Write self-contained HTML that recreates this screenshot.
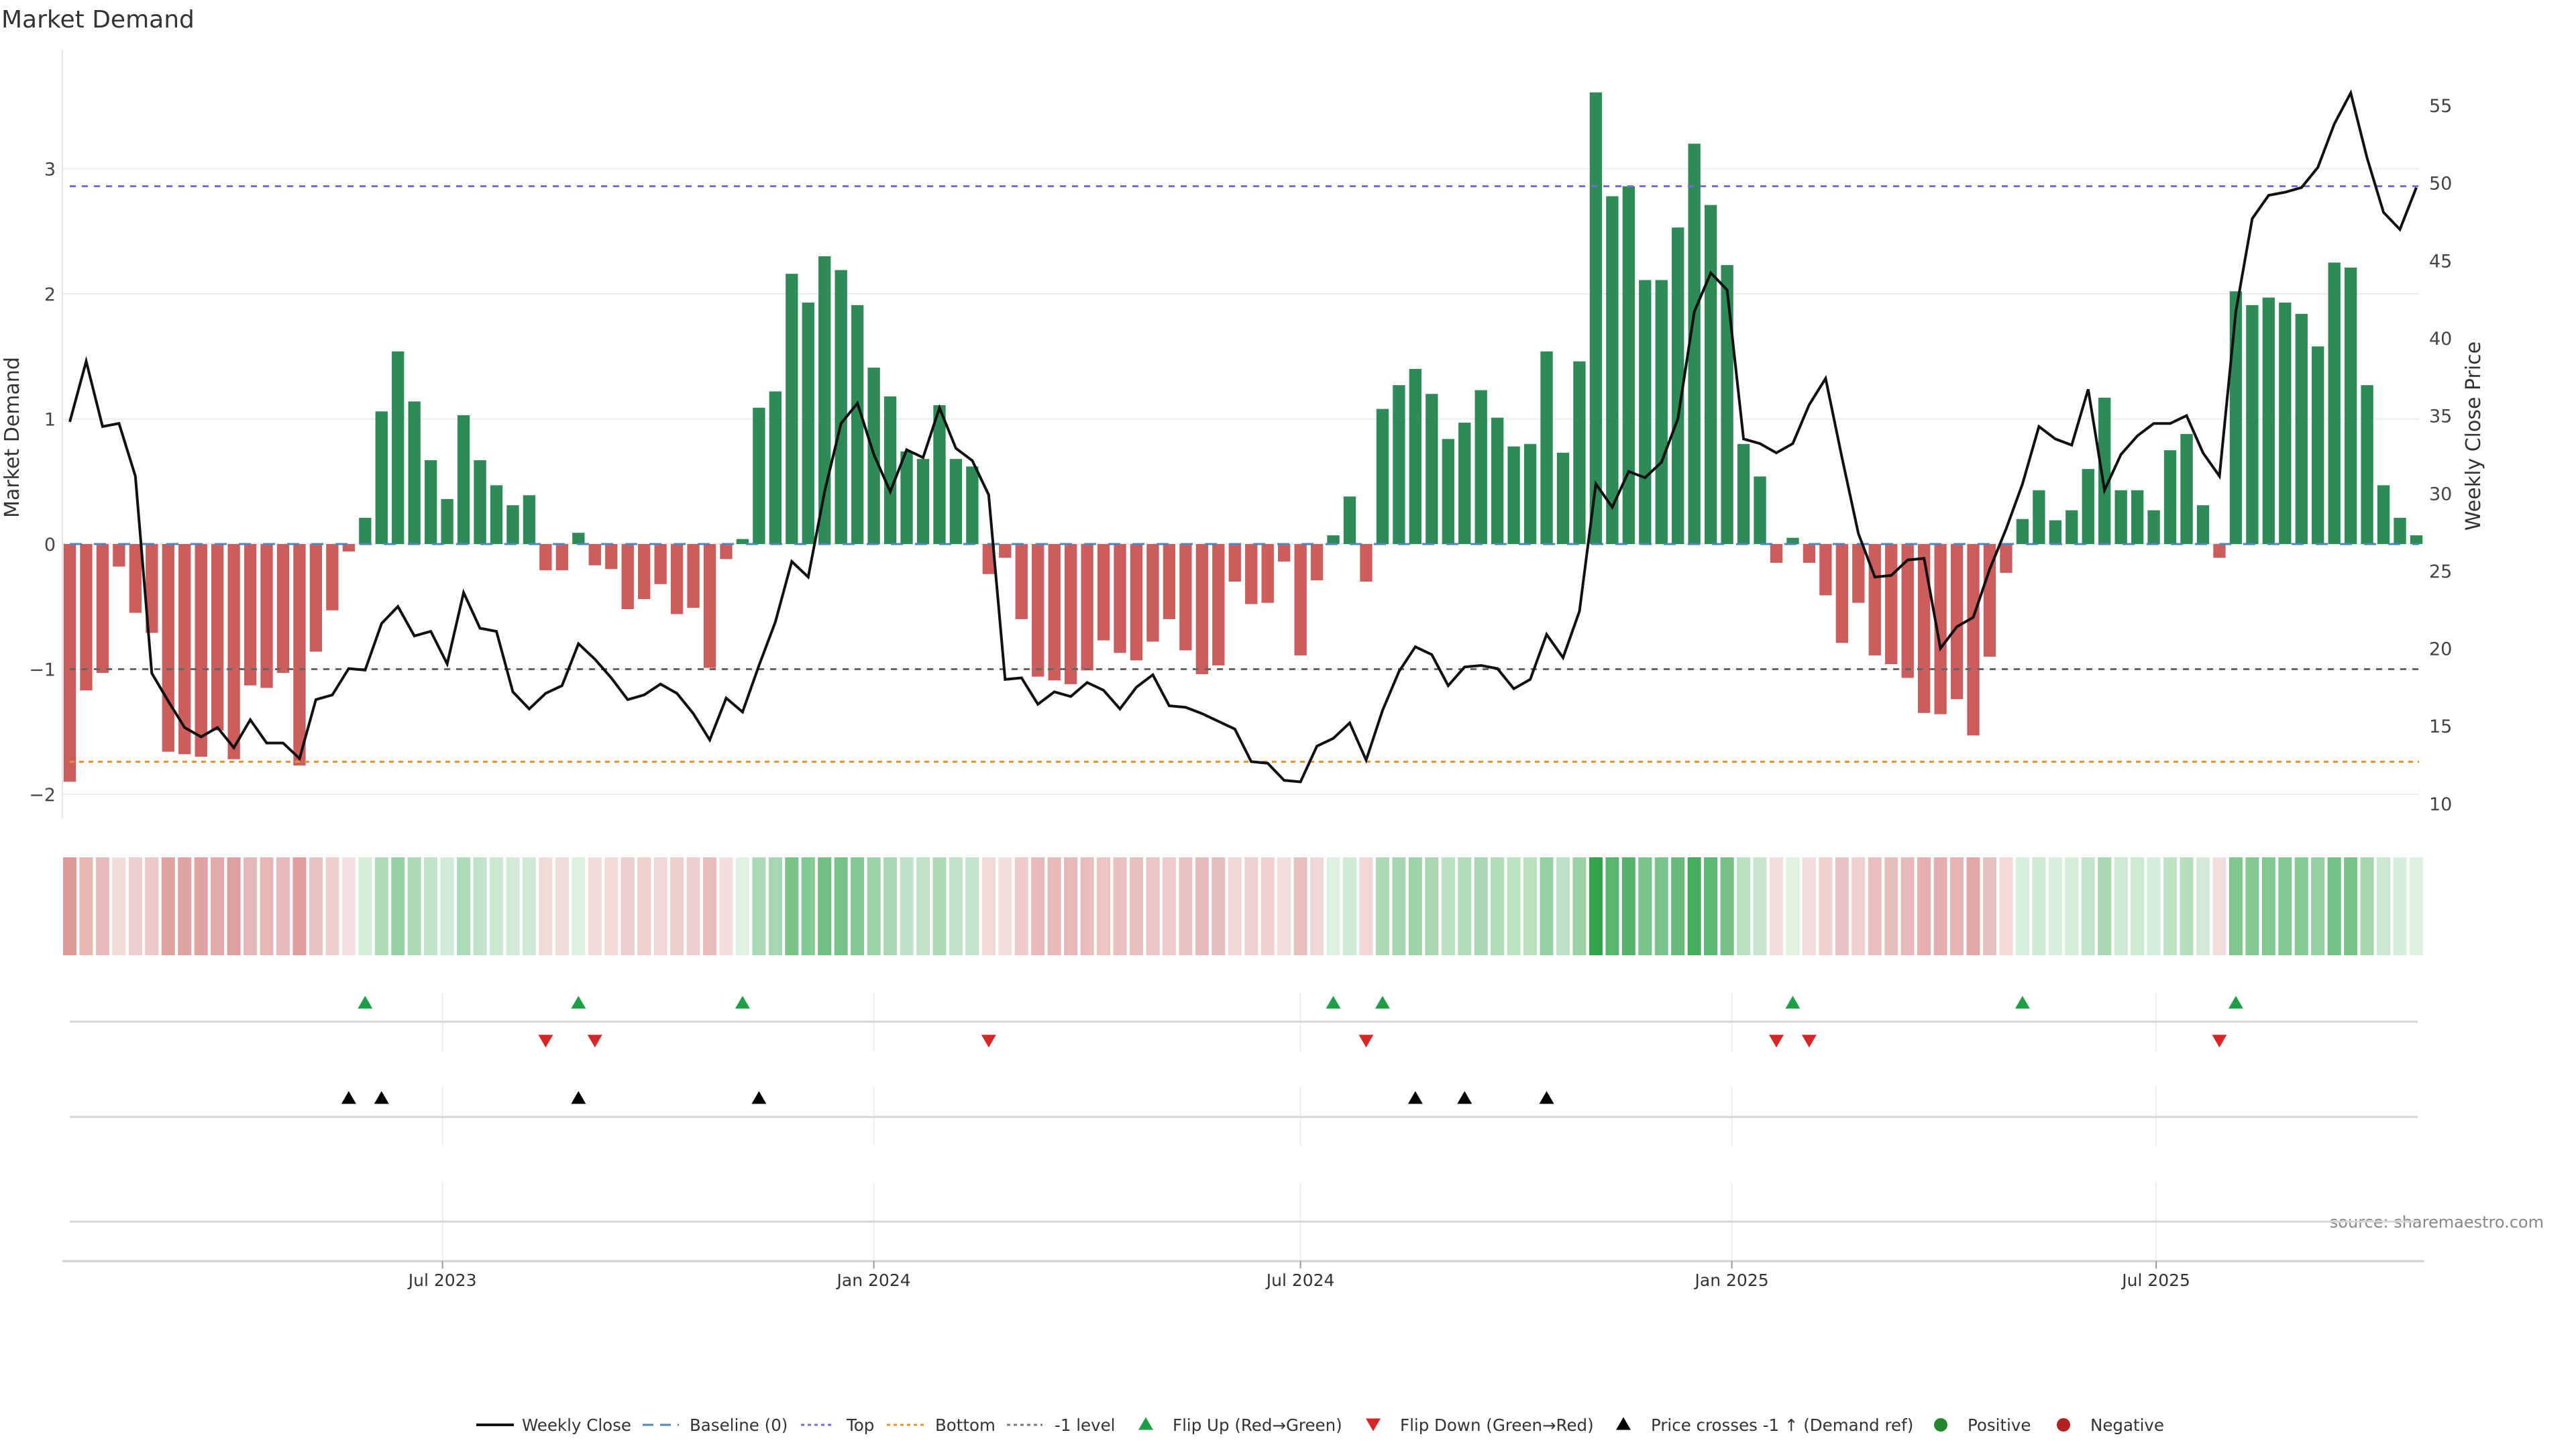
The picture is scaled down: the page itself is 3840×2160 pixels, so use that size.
<!DOCTYPE html>
<html><head><meta charset="utf-8"><title>Market Demand</title>
<style>
html,body{margin:0;padding:0;background:#fff;}
svg{display:block;font-family:"DejaVu Sans","Liberation Sans",sans-serif;}
</style></head>
<body>
<svg id="chart" width="3840" height="2160" viewBox="0 0 3840 2160" xmlns="http://www.w3.org/2000/svg">
<text x="2" y="41" font-size="36" fill="#333">Market Demand</text>
<text transform="translate(28,652) rotate(-90)" text-anchor="middle" font-size="30" fill="#333">Market Demand</text>
<text transform="translate(3697,650) rotate(-90)" text-anchor="middle" font-size="30" fill="#333">Weekly Close Price</text>
<text x="3792" y="1830" text-anchor="end" font-size="24" fill="#888">source: sharemaestro.com</text>
<g id="g-main"></g>
<g id="g-heat"></g>
<g id="g-markers"></g>
<g id="g-legend"></g>
</svg>
<script>
// ---- data ----
const startDate = "2023-01-23";
const demand = [-1.90,-1.17,-1.03,-0.18,-0.55,-0.71,-1.66,-1.68,-1.70,-1.49,-1.72,-1.13,-1.15,-1.03,-1.77,-0.86,-0.53,-0.06,0.21,1.06,
1.54,1.14,0.67,0.36,1.03,0.67,0.47,0.31,0.39,-0.21,-0.21,0.09,-0.17,-0.20,-0.52,-0.44,-0.32,-0.56,-0.51,-0.99,
-0.12,0.04,1.09,1.22,2.16,1.93,2.30,2.19,1.91,1.41,1.18,0.74,0.68,1.11,0.68,0.62,-0.24,-0.11,-0.60,-1.06,
-1.09,-1.12,-1.01,-0.77,-0.87,-0.93,-0.78,-0.60,-0.85,-1.04,-0.97,-0.30,-0.48,-0.47,-0.14,-0.89,-0.29,0.07,0.38,-0.30,
1.08,1.27,1.40,1.20,0.84,0.97,1.23,1.01,0.78,0.80,1.54,0.73,1.46,3.61,2.78,2.86,2.11,2.11,2.53,3.20,
2.71,2.23,0.80,0.54,-0.15,0.05,-0.15,-0.41,-0.79,-0.47,-0.89,-0.96,-1.07,-1.35,-1.36,-1.24,-1.53,-0.90,-0.23,0.20,
0.43,0.19,0.27,0.60,1.17,0.43,0.43,0.27,0.75,0.88,0.31,-0.11,2.02,1.91,1.97,1.93,1.84,1.58,2.25,2.21,
1.27,0.47,0.21,0.07];
const price = [34.6,38.5,34.3,34.5,31.1,18.4,16.6,14.9,14.3,14.9,13.6,15.4,13.9,13.9,12.9,16.7,17.0,18.7,18.6,21.6,
22.7,20.8,21.1,19.0,23.6,21.3,21.1,17.2,16.1,17.1,17.6,20.3,19.3,18.1,16.7,17.0,17.7,17.1,15.8,14.1,
16.8,15.9,18.9,21.7,25.6,24.6,30.1,34.5,35.8,32.5,30.1,32.8,32.3,35.5,32.9,32.1,29.9,18.0,18.1,16.4,
17.2,16.9,17.8,17.3,16.1,17.5,18.3,16.3,16.2,15.8,15.3,14.8,12.7,12.6,11.5,11.4,13.7,14.2,15.2,12.8,
16.0,18.5,20.1,19.6,17.6,18.8,18.9,18.7,17.4,18.0,20.9,19.4,22.4,30.6,29.1,31.4,31.0,32.0,34.8,41.7,
44.2,43.1,33.5,33.2,32.6,33.2,35.7,37.4,32.3,27.4,24.6,24.7,25.7,25.8,20.0,21.4,22.0,25.1,27.7,30.6,
34.3,33.5,33.1,36.7,30.2,32.5,33.7,34.5,34.5,35.0,32.6,31.1,41.7,47.7,49.2,49.4,49.7,51.0,53.8,55.8,
51.6,48.1,47.0,49.7];
const flipUp = [18,31,41,77,80,105,119,132];
const flipDown = [29,32,56,79,104,106,131];
const priceCross = [17,19,31,42,82,85,90];
const levelTop = 2.86, levelBottom = -1.74, levelMinus1 = -1, levelBase = 0;
const yTicks = [-2,-1,0,1,2,3];
const y2Ticks = [10,15,20,25,30,35,40,45,50,55];
const monthTicks = ["2023-07-01","2024-01-01","2024-07-01","2025-01-01","2025-07-01"];
const monthLabels = ["Jul 2023","Jan 2024","Jul 2024","Jan 2025","Jul 2025"];

// ---- scales ----
const NS="http://www.w3.org/2000/svg";
const DAY=86400000;
const t0=Date.parse(startDate);
const dates=demand.map((_,i)=>t0+i*7*DAY);
const tN=dates[dates.length-1];
const X0=104, X1=3602;
const x=t=>X0+(t-t0)/(tN-t0)*(X1-X0);
const step=(X1-X0)/(demand.length-1);
const Y0=811, YU=186.5;
const y=v=>Y0-v*YU;
const P_TOP=157, P_PER=23.13;
const y2=p=>P_TOP+(55-p)*P_PER;
const PLOT_L=93, PLOT_R=3606;

function el(tag,attrs,parent){const e=document.createElementNS(NS,tag);for(const k in attrs)e.setAttribute(k,attrs[k]);parent.appendChild(e);return e;}

const gm=document.getElementById('g-main');
yTicks.forEach(v=>{
  const l=el('line',{x1:PLOT_L,x2:PLOT_R,y1:y(v),y2:y(v),stroke:'#ececec','stroke-width':2},gm);
  
  
  const t=el('text',{x:83,y:y(v)+10,'text-anchor':'end','font-size':27,fill:'#444'},gm);
  t.textContent=v<0?'\u2212'+Math.abs(v):String(v);
  
  
});
y2Ticks.forEach(p=>{
  const t=el('text',{x:3621,y:y2(p)+10,'font-size':27,fill:'#444'},gm);
  t.textContent=String(p);
  
  
});
const ax=el('line',{x1:PLOT_L,x2:PLOT_L,y1:74,y2:1220,stroke:'#e6e6e6','stroke-width':2},gm);



const bw=step*0.75;
demand.forEach((v,i)=>{
  const cx=x(dates[i]);
  const r=el('rect',{x:cx-bw/2,y:Math.min(y(v),y(0)),width:bw,height:Math.abs(y(v)-y(0)),fill:v>=0?'#2e8b57':'#cd5c5c'},gm);
  
  
});
function ref(v,color,dash,name,w){
  const l=el('line',{x1:X0,x2:PLOT_R,y1:y(v),y2:y(v),stroke:color,'stroke-width':w||3,'stroke-dasharray':dash},gm);
  
  
}
ref(levelBase,'#4a87bd','18 18','baseline-line',3);
ref(levelTop,'#7b68d8','9 9','top-line',3);
ref(levelBottom,'#f0902a','7 7','bottom-line',3);
ref(levelMinus1,'#666','9 9','minus1-line',3);
const pts=price.map((p,i)=>x(dates[i]).toFixed(1)+','+y2(p).toFixed(1)).join(' ');
const pl=el('polyline',{points:pts,fill:'none',stroke:'#111','stroke-width':4,'stroke-linejoin':'miter'},gm);



const gh=document.getElementById('g-heat');
function lerp(a,b,t){return a.map((c,k)=>Math.round(c+(b[k]-c)*t));}
demand.forEach((v,i)=>{
  const t=Math.min(Math.abs(v)/3.6,1);
  const c=v>=0?lerp([225,242,228],[51,163,76],t):lerp([244,226,226],[200,90,88],t);
  const cx=x(dates[i]);
  const r=el('rect',{x:cx-step*0.41,y:1278,width:step*0.82,height:146,fill:'rgb('+c.join(',')+')'},gh);
  
  
});

const gk=document.getElementById('g-markers');
const tickX=monthTicks.map(d=>x(Date.parse(d)));
tickX.forEach(tx=>{
  [[1480,1567],[1620,1707],[1763,1880]].forEach(s=>{
    const l=el('line',{x1:tx,x2:tx,y1:s[0],y2:s[1],stroke:'#ececec','stroke-width':2},gk);
    
    
  });
});
[1523,1665,1821].forEach(yy=>{
  const l=el('line',{x1:104,x2:3604,y1:yy,y2:yy,stroke:'#d6d6d6','stroke-width':3},gk);
  
  
});
const xa=el('line',{x1:93,x2:3614,y1:1880,y2:1880,stroke:'#d0d0d0','stroke-width':3},gk);


tickX.forEach((tx,k)=>{
  const tm=el('line',{x1:tx,x2:tx,y1:1880,y2:1891,stroke:'#999','stroke-width':2},gk);
  
  
  const t=el('text',{x:tx,y:1917,'text-anchor':'middle','font-size':25,fill:'#333'},gk);
  t.textContent=monthLabels[k];
  
  
});
function tri(cx,cy,up,color,parent){
  const h=19,w=22;
  const p=up?`${cx-w/2},${cy+h/2} ${cx+w/2},${cy+h/2} ${cx},${cy-h/2}`:`${cx-w/2},${cy-h/2} ${cx+w/2},${cy-h/2} ${cx},${cy+h/2}`;
  return el('polygon',{points:p,fill:color},parent);
}
flipUp.forEach(i=>{
  const m=tri(x(dates[i]),1494,true,'#1e9e45',gk);
  
  
});
flipDown.forEach(i=>{
  const m=tri(x(dates[i]),1552,false,'#d62728',gk);
  
  
});
priceCross.forEach(i=>{
  const m=tri(x(dates[i]),1636,true,'#000',gk);
  
  
});

const gl=document.getElementById('g-legend');
const LY=2124;
function ltext(xx,s){const t=el('text',{x:xx,y:LY+9,'font-size':24.5,fill:'#333'},gl);t.textContent=s;}
function lline(x1,x2,color,dash,w){const l=el('line',{x1:x1,x2:x2,y1:LY,y2:LY,stroke:color,'stroke-width':w,'stroke-dasharray':dash},gl);}
lline(710,766,'#111','none',4); ltext(778,'Weekly Close');
lline(958,1012,'#4a87bd','16 10',3); ltext(1028,'Baseline (0)');
lline(1194,1244,'#7b68d8','5 5',3); ltext(1262,'Top');
lline(1322,1377,'#f0902a','5 5',3); ltext(1394,'Bottom');
lline(1501,1554,'#777','5 5',3); ltext(1572,'-1 level');
let m;
m=tri(1708,LY-2,true,'#1e9e45',gl);  
ltext(1748,'Flip Up (Red\u2192Green)');
m=tri(2047,LY,false,'#d62728',gl);  
ltext(2087,'Flip Down (Green\u2192Red)');
m=tri(2420,LY-2,true,'#000',gl);  
ltext(2461,'Price crosses -1 \u2191 (Demand ref)');
m=el('circle',{cx:2893,cy:LY,r:10,fill:'#23882f'},gl);  
ltext(2933,'Positive');
m=el('circle',{cx:3076,cy:LY,r:10,fill:'#b22222'},gl);  
ltext(3116,'Negative');
</script>
</body></html>
